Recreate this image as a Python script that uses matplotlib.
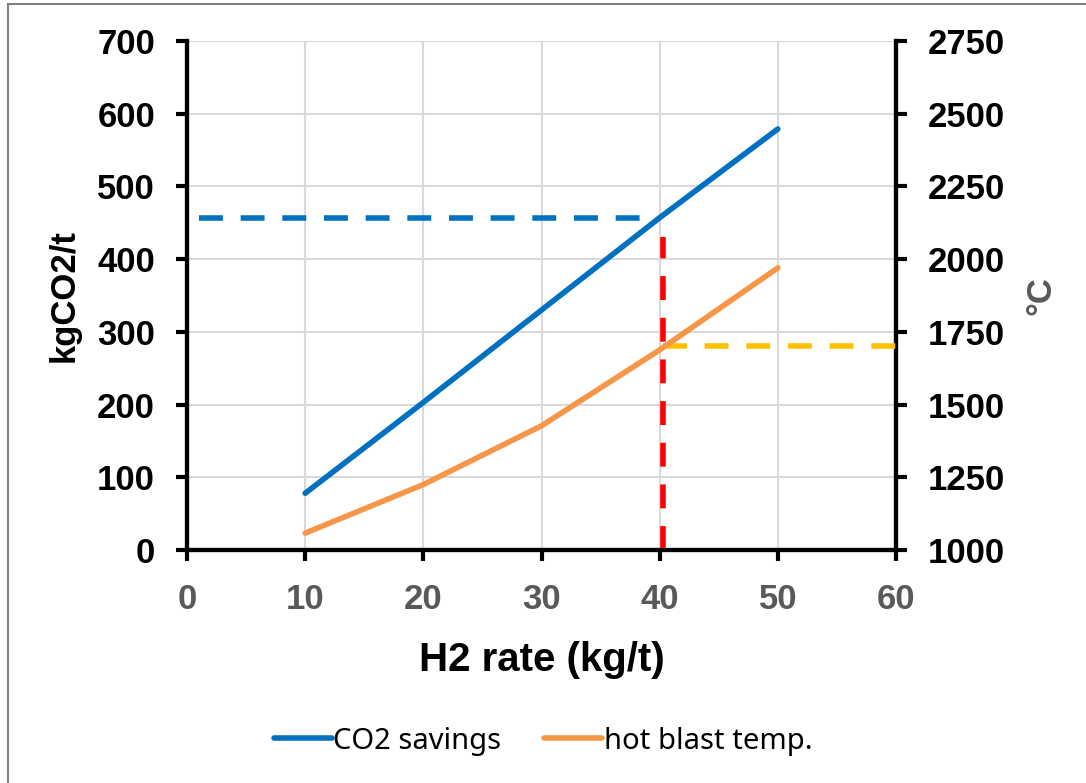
import matplotlib.pyplot as plt
from matplotlib.patches import Rectangle

# data
h2_rate = [10, 20, 30, 40, 50]
co2_savings = [78, 203, 330, 457, 579]
hot_blast = [1058, 1225, 1427, 1688, 1970]

# guide lines
co2_mark = 456
co2_mark_x = [1, 38.6]
h2_mark = 40.3
h2_mark_top = 430
temp_mark = 1701

blue = '#0070C0'
orange = '#F79646'
grey = '#595959'

plt.rcParams['font.family'] = ['Liberation Sans', 'DejaVu Sans']

fig = plt.figure(figsize=(10.86, 7.83), dpi=100)
ax = fig.add_axes([187 / 1086, 1 - 550 / 783, (896 - 187) / 1086, (550 - 41) / 783])
ax2 = ax.twinx()

ax.plot(h2_rate, co2_savings, color=blue, lw=4, solid_capstyle='round', label='CO2 savings', zorder=4)
ax2.plot(h2_rate, hot_blast, color=orange, lw=4, solid_capstyle='round', label='hot blast temp.', zorder=4)

dash = (4.3, 3.2)
ax.plot(co2_mark_x, [co2_mark, co2_mark], color=blue, lw=4, dashes=dash, zorder=3)
ax.plot([h2_mark, h2_mark], [0, h2_mark_top], color='#FF0000', lw=4, dashes=dash, zorder=3)
ax2.plot([h2_mark, 60], [temp_mark, temp_mark], color='#FFC000', lw=4, dashes=dash, zorder=3)

ax.set_xlim(0, 60)
ax.set_ylim(0, 700)
ax2.set_ylim(1000, 2750)
ax.set_xticks(range(0, 61, 10))
ax.set_yticks(range(0, 701, 100))
ax2.set_yticks(range(1000, 2751, 250))

ax.grid(True, color='#D9D9D9', lw=1.5)
ax.set_axisbelow(True)

for a in (ax, ax2):
    a.spines['top'].set_visible(False)
    for s in ('left', 'right', 'bottom'):
        a.spines[s].set_linewidth(3)
        a.spines[s].set_color('black')

ax.tick_params(axis='y', direction='out', length=8, width=3, labelsize=25, pad=15)
ax.tick_params(axis='x', direction='out', length=8, width=3, labelsize=25, pad=16, labelcolor=grey)
ax2.tick_params(axis='y', direction='out', length=8, width=3, labelsize=25, pad=15)
for lab in ax.get_xticklabels() + ax.get_yticklabels() + ax2.get_yticklabels():
    lab.set_fontweight('bold')

ax.set_xlabel('H2 rate (kg/t)', fontsize=29, fontweight='bold', labelpad=18)
ax.set_ylabel('kgCO2/t', fontsize=25, fontweight='bold', labelpad=12)
ax2.set_ylabel('°C', fontsize=25, fontweight='bold', color=grey, labelpad=14)

h1, l1 = ax.get_legend_handles_labels()
h2, l2 = ax2.get_legend_handles_labels()
fig.legend(h1 + h2, l1 + l2, loc='center', bbox_to_anchor=(0.5, 1 - 741 / 783), ncol=2,
           frameon=False, prop={'family': 'Noto Sans', 'size': 21}, handlelength=2.0,
           handletextpad=0.05, columnspacing=1.45)

fig.patches.append(Rectangle((8 / 1086, -0.1), 1.2, 1.1 - 4 / 783, transform=fig.transFigure,
                             fill=False, edgecolor='#7F7F7F', lw=1.5))

fig.savefig('out.png', dpi=100)
